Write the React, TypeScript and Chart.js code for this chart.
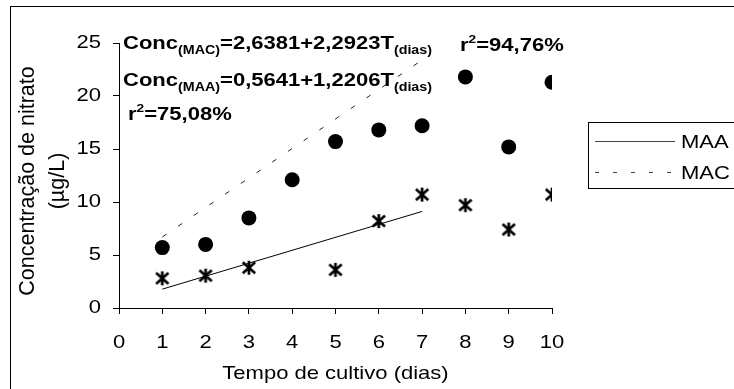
import React, { useEffect, useRef } from "react";
import { Chart, registerables } from "chart.js";

Chart.register(...registerables);

// ---- data ----
const days = [1, 2, 3, 4, 5, 6, 7, 8, 9, 10];
const macValues = [5.7, 6.0, 8.5, 12.1, 15.7, 16.8, 17.2, 21.8, 15.2, 21.3];
const maaValues = [2.8, 3.05, 3.8, null, 3.6, 8.2, 10.7, 9.7, 7.4, 10.7];
const maaTrendX = [1, 7];
const maaTrendY = [1.78, 9.11];
const macTrendX = [1, 7];
const macTrendY = [6.7, 23.4];
const xTickValues = [0, 1, 2, 3, 4, 5, 6, 7, 8, 9, 10];
const yTickValues = [0, 5, 10, 15, 20, 25];
const legendLabels = ["MAA", "MAC"];
const xTitle = "Tempo de cultivo (dias)";
const yTitleLines = ["Concentração de nitrato", "(µg/L)"];
const eqMac = ["Conc", "(MAC)", "=2,6381+2,2923T", "(dias)"];
const eqMaa = ["Conc", "(MAA)", "=0,5641+1,2206T", "(dias)"];
const r2Mac = ["r", "2", "=94,76%"];
const r2Maa = ["r", "2", "=75,08%"];

const FONT = "'Liberation Sans', Arial, sans-serif";
const SX = 1.19;

export default function App() {
  const ref = useRef<HTMLCanvasElement | null>(null);

  useEffect(() => {
    const canvas = ref.current!;
    const ctx = canvas.getContext("2d")!;
    const origFill = ctx.fillText.bind(ctx);
    let stretchOn = false;
    (ctx as any).fillText = (text: string, x: number, y: number, maxWidth?: number) => {
      if (!stretchOn) {
        if (maxWidth === undefined) origFill(text, x, y);
        else origFill(text, x, y, maxWidth);
        return;
      }
      ctx.save();
      ctx.translate(x, y);
      ctx.scale(SX, 1);
      origFill(text, 0, 0);
      ctx.restore();
    };

    const star = document.createElement("canvas");
    star.width = 18;
    star.height = 18;
    const sc = star.getContext("2d")!;
    sc.strokeStyle = "#000";
    sc.lineWidth = 2.7;
    sc.beginPath();
    sc.moveTo(9, 2); sc.lineTo(9, 16);
    sc.moveTo(2.8, 3.6); sc.lineTo(15.2, 14.4);
    sc.moveTo(15.2, 3.6); sc.lineTo(2.8, 14.4);
    sc.stroke();

    const drawParts = (parts: string[], x: number, y: number, kinds: string[]) => {
      let cx = x;
      parts.forEach((p, i) => {
        const k = kinds[i];
        let size = 18.5, dy = 0;
        if (k === "sub") { size = 12; dy = 5; }
        if (k === "sup") { size = 11.5; dy = -8; }
        ctx.font = `bold ${size}px ${FONT}`;
        const w = ctx.measureText(p).width * SX;
        ctx.save();
        ctx.translate(cx, y + dy);
        ctx.scale(SX, 1);
        origFill(p, 0, 0);
        ctx.restore();
        cx += w;
      });
    };

    const textStretched = (t: string, x: number, y: number, font: string, align: CanvasTextAlign) => {
      ctx.save();
      ctx.font = font;
      ctx.textAlign = align;
      ctx.textBaseline = "alphabetic";
      ctx.translate(x, y);
      ctx.scale(SX, 1);
      origFill(t, 0, 0);
      ctx.restore();
    };

    const overlay = {
      id: "overlay",
      beforeDraw() { stretchOn = true; },
      afterDraw(chart: any) {
        stretchOn = false;
        const c = chart.ctx as CanvasRenderingContext2D;
        c.save();
        c.fillStyle = "#000";
        c.strokeStyle = "#000";
        c.lineWidth = 1;
        c.setLineDash([]);
        c.strokeRect(10.5, 6.5, 800, 500);
        c.textAlign = "left";
        c.textBaseline = "alphabetic";
        drawParts(eqMac, 123, 49, ["main", "sub", "main", "sub"]);
        drawParts(r2Mac, 460, 51, ["main", "sup", "main"]);
        drawParts(eqMaa, 123, 86, ["main", "sub", "main", "sub"]);
        drawParts(r2Maa, 128, 120, ["main", "sup", "main"]);

        // legend
        c.strokeStyle = "#000";
        c.strokeRect(588.5, 122.5, 200, 66);
        c.strokeStyle = "#444";
        c.beginPath();
        c.moveTo(595, 141.5); c.lineTo(675, 141.5);
        c.stroke();
        c.setLineDash([4, 14]);
        c.beginPath();
        c.moveTo(595, 172.5); c.lineTo(679, 172.5);
        c.stroke();
        c.setLineDash([]);
        textStretched(legendLabels[0], 681, 148, `18.5px ${FONT}`, "left");
        textStretched(legendLabels[1], 681, 179, `18.5px ${FONT}`, "left");

        // x title
        textStretched(xTitle, 335.5, 379, `18.5px ${FONT}`, "center");

        // y title
        c.font = `21.5px ${FONT}`;
        c.textAlign = "center";
        c.textBaseline = "middle";
        [28, 58].forEach((xx, i) => {
          c.save();
          c.translate(xx, 181);
          c.rotate(-Math.PI / 2);
          origFill(yTitleLines[i], 0, 0);
          c.restore();
        });
        c.restore();
      },
    };

    const chart = new Chart(ctx, {
      type: "scatter",
      data: {
        datasets: [
          {
            label: "MAC pontos",
            data: days.map((d, i) => ({ x: d, y: macValues[i] })),
            pointStyle: "circle",
            pointRadius: 7.5,
            pointBackgroundColor: "#000",
            pointBorderWidth: 0,
            showLine: false,
          },
          {
            label: "MAA pontos",
            data: days.map((d, i) => ({ x: d, y: maaValues[i] as any })),
            pointStyle: star as any,
            pointRadius: 9,
            showLine: false,
          },
          {
            label: legendLabels[0],
            data: maaTrendX.map((d, i) => ({ x: d, y: maaTrendY[i] })),
            showLine: true,
            borderColor: "#000",
            borderWidth: 1,
            pointRadius: 0,
          },
          {
            label: legendLabels[1],
            data: macTrendX.map((d, i) => ({ x: d, y: macTrendY[i] })),
            showLine: true,
            borderColor: "#222",
            borderWidth: 1,
            borderDash: [5, 14],
            pointRadius: 0,
          },
        ],
      },
      options: {
        animation: false,
        responsive: false,
        devicePixelRatio: 1,
        layout: { padding: { left: 0, top: 43, right: 182, bottom: 0 } },
        plugins: { legend: { display: false }, tooltip: { enabled: false }, title: { display: false } },
        scales: {
          x: {
            type: "linear",
            min: 0,
            max: 10,
            afterBuildTicks: (s: any) => { s.ticks = xTickValues.map((v) => ({ value: v })); },
            ticks: { color: "#000", font: { family: FONT, size: 18.5 }, padding: 18, maxRotation: 0, autoSkip: false },
            grid: { drawOnChartArea: false, drawTicks: true, tickLength: 6, color: "#000", lineWidth: 1 },
            border: { display: true, color: "#000", width: 1 },
            afterFit: (s: any) => { s.height = 81; },
          },
          y: {
            type: "linear",
            min: 0,
            max: 25,
            afterBuildTicks: (s: any) => { s.ticks = yTickValues.map((v) => ({ value: v })); },
            ticks: { color: "#000", font: { family: FONT, size: 18.5 }, padding: 12 },
            grid: { drawOnChartArea: false, drawTicks: true, tickLength: 6, color: "#000", lineWidth: 1 },
            border: { display: true, color: "#000", width: 1 },
            afterFit: (s: any) => { s.width = 119; },
          },
        },
      },
      plugins: [overlay],
    } as any);

    return () => chart.destroy();
  }, []);

  return (
    <div style={{ position: "absolute", left: 0, top: 0, width: 734, height: 389, background: "#fff" }}>
      <canvas ref={ref} width={734} height={389} style={{ width: 734, height: 389, display: "block" }} />
    </div>
  );
}
